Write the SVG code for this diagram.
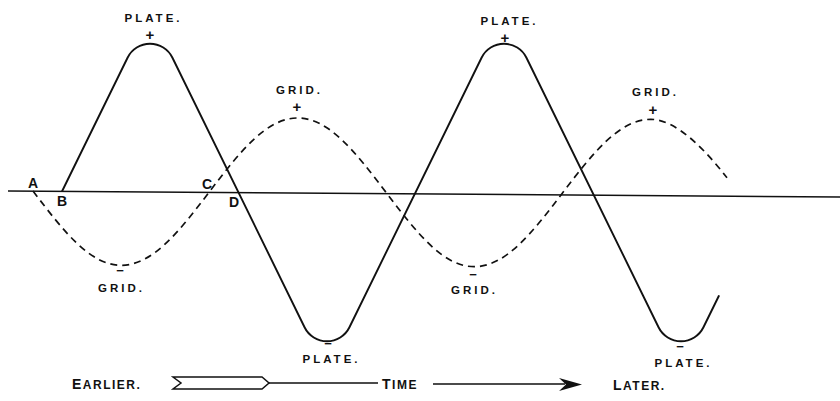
<svg xmlns="http://www.w3.org/2000/svg" width="840" height="401" viewBox="0 0 840 401">
<style>
.lbl{font-family:"Liberation Sans",Arial,sans-serif;font-weight:bold;font-size:11.5px;letter-spacing:3px;text-anchor:middle;fill:#111}
.sign{font-family:"Liberation Sans",Arial,sans-serif;font-weight:bold;font-size:15px;text-anchor:middle;fill:#111}
.minus{font-family:"Liberation Sans",Arial,sans-serif;font-weight:bold;font-size:13px;text-anchor:middle;fill:#111}
.pt{font-family:"Liberation Sans",Arial,sans-serif;font-weight:bold;font-size:14px;text-anchor:middle;fill:#111}
.cap{font-family:"Liberation Sans",Arial,sans-serif;font-weight:bold;font-size:12px;letter-spacing:1.5px;fill:#111}
.plate{fill:none;stroke:#111;stroke-width:1.9;stroke-linecap:round;stroke-linejoin:round}
.grid{fill:none;stroke:#111;stroke-width:1.7;stroke-dasharray:7 5}
.axis{fill:none;stroke:#111;stroke-width:1.5}
</style>
<rect width="840" height="401" fill="#fff"/>
<g id="connectors">
<path id="axis" class="axis" d="M8,191 L840,197"/>
<path id="plate-wave" class="plate" d="M62.2,191 L127.55,57.78 A25,25 0 0 1 172.45,57.78 L304.55,327.22 A25,25 0 0 0 349.45,327.22 L481.55,57.78 A25,25 0 0 1 526.45,57.78 L658.55,327.22 A25,25 0 0 0 703.45,327.22 L718.8,296"/>
<path id="grid-wave" class="grid" d="M33,191 C64.03,231.87 90.22,265.3 121.25,265.3 C152.28,265.3 178.47,232.54 209.5,191.67 C240.53,150.8 266.72,118 297.75,118 C328.78,118 354.97,151.47 386,192.34 C417.03,233.21 443.22,266.7 474.25,266.7 C505.28,266.7 531.47,233.87 562.5,193 C593.53,152.13 619.72,119.35 650.75,119.35 C676.15,119.35 705,149.5 727,177.8"/>
</g>
<g id="plate-top-1"><text class="lbl" x="153.5" y="21.5">PLATE.</text><text class="sign" x="150" y="40">+</text></g>
<g id="plate-top-2"><text class="lbl" x="509.5" y="24.5">PLATE.</text><text class="sign" x="505" y="43">+</text></g>
<g id="grid-top-1"><text class="lbl" x="299.5" y="93.5">GRID.</text><text class="sign" x="297" y="112">+</text></g>
<g id="grid-top-2"><text class="lbl" x="655.5" y="95.5">GRID.</text><text class="sign" x="653" y="115">+</text></g>
<g id="grid-bottom-1"><text class="minus" x="120" y="275">−</text><text class="lbl" x="121.5" y="291.5">GRID.</text></g>
<g id="grid-bottom-2"><text class="minus" x="473" y="279">−</text><text class="lbl" x="474.5" y="293.5">GRID.</text></g>
<g id="plate-bottom-1"><text class="minus" x="328" y="348">−</text><text class="lbl" x="331.5" y="363">PLATE.</text></g>
<g id="plate-bottom-2"><text class="minus" x="680" y="351">−</text><text class="lbl" x="683.5" y="367">PLATE.</text></g>
<g id="point-A"><text class="pt" x="33" y="188">A</text></g>
<g id="point-B"><text class="pt" x="62" y="206">B</text></g>
<g id="point-C"><text class="pt" x="207" y="189">C</text></g>
<g id="point-D"><text class="pt" x="234" y="207">D</text></g>
<g id="time-arrow">
<path class="axis" d="M173,377 L262,377 L269,383 L262,389 L173,389 L181,383 Z" stroke-width="1.3"/>
<path class="axis" d="M269,383 L378,383 M433,384 L565,384" stroke-width="1.3"/>
<path d="M582,384.5 L559,378 L566,384.5 L559,391 Z" fill="#111"/>
</g>
<g id="label-earlier"><text class="cap" x="72" y="389"><tspan font-size="14">E</tspan>ARLIER.</text></g>
<g id="label-time"><text class="cap" x="382" y="389"><tspan font-size="14">T</tspan>IME</text></g>
<g id="label-later"><text class="cap" x="613" y="390"><tspan font-size="14">L</tspan>ATER.</text></g>
</svg>
